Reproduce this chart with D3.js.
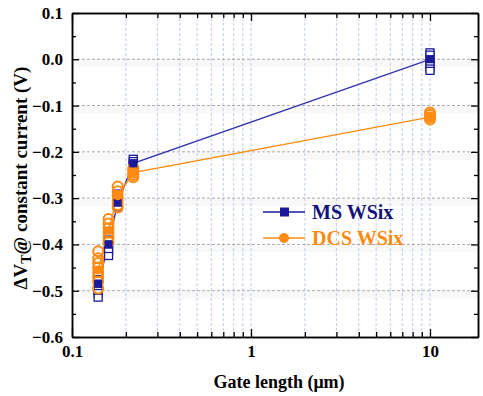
<!DOCTYPE html>
<html>
<head>
<meta charset="utf-8">
<script src="https://cdn.jsdelivr.net/npm/d3@7"></script>
<style>
  body { margin: 0; background: #fff; }
  svg text { font-family: "Liberation Serif", "Times New Roman", "DejaVu Serif", serif !important; font-weight: bold; }
</style>
</head>
<body>
<div id="chart"></div>
<script>
// gate lengths (um)
var gateLen = [0.14, 0.16, 0.18, 0.22, 10];

// mean values (line + filled marker)
var msMean  = [-0.485, -0.40, -0.31, -0.225, 0.0];
var dcsMean = [-0.455, -0.37, -0.295, -0.245, -0.125];

// raw device values per gate length (open markers)
var msRaw = [
  [-0.465, -0.475, -0.485, -0.49, -0.50, -0.505, -0.515],
  [-0.375, -0.39, -0.40, -0.41, -0.415, -0.425],
  [-0.29, -0.30, -0.31, -0.315, -0.32],
  [-0.215, -0.22, -0.225, -0.23, -0.235],
  [0.015, 0.01, 0.0, -0.005, -0.01, -0.02, -0.025]
];
var dcsRaw = [
  [-0.415, -0.43, -0.44, -0.45, -0.46, -0.47, -0.48, -0.495],
  [-0.345, -0.355, -0.365, -0.375, -0.385, -0.395],
  [-0.275, -0.285, -0.295, -0.305, -0.315, -0.32],
  [-0.235, -0.24, -0.245, -0.25, -0.255],
  [-0.115, -0.12, -0.125, -0.13]
];

var yTicks = [0.1, 0.0, -0.1, -0.2, -0.3, -0.4, -0.5, -0.6];
var xTicks = [0.1, 1, 10];

var svgWidth = 483, svgHeight = 396;
var margin = {top: 13, right: 5, bottom: 59, left: 72};
var width = svgWidth - margin.left - margin.right;
var height = svgHeight - margin.top - margin.bottom;

var msColor = "#1a1a9a", dcsColor = "#ff8a10";

var svg = d3.select("#chart").append("svg")
  .attr("width", svgWidth)
  .attr("height", svgHeight);

var g = svg.append("g")
  .attr("transform", `translate(${margin.left}, ${margin.top})`);

var x = d3.scaleLog()
  .domain([0.1, Math.pow(10, 1 + 48 / 179)])
  .range([0, width]);
var y = d3.scaleLinear()
  .domain([-0.6, 0.1])
  .range([height, 0]);

// minor log positions
var minorX = [];
[0.1, 1, 10].forEach(function(d) {
  for (var k = 2; k <= 9; k++) {
    if (d * k <= x.domain()[1]) minorX.push(d * k);
  }
});

// faint bands under horizontal grid
g.append("g").selectAll("rect")
  .data(yTicks.slice(1, -1))
  .enter().append("rect")
  .attr("x", 0).attr("width", width)
  .attr("y", d => y(d) + 1).attr("height", 7)
  .attr("fill", "#f8f8f8");

// vertical grid
g.append("g").selectAll("line")
  .data(minorX.concat([1, 10]))
  .enter().append("line")
  .attr("x1", d => x(d)).attr("x2", d => x(d))
  .attr("y1", 0).attr("y2", height)
  .attr("stroke", "#bccde3")
  .attr("stroke-width", 1)
  .attr("stroke-dasharray", "3,2");

// horizontal grid
g.append("g").selectAll("line")
  .data(yTicks.slice(1, -1))
  .enter().append("line")
  .attr("x1", 0).attr("x2", width)
  .attr("y1", d => y(d)).attr("y2", d => y(d))
  .attr("stroke", "#a8a8a8")
  .attr("stroke-width", 1)
  .attr("stroke-dasharray", "3,2");

// axes, ticks pointing inward
var bottomAxis = d3.axisBottom(x).tickValues(xTicks).tickFormat(d3.format("")).tickSizeInner(-8).tickSizeOuter(0);
var bottomMinor = d3.axisBottom(x).tickValues(minorX).tickFormat("").tickSizeInner(-5).tickSizeOuter(0);
var topAxis = d3.axisTop(x).tickValues(xTicks).tickFormat("").tickSizeInner(-8).tickSizeOuter(0);
var topMinor = d3.axisTop(x).tickValues(minorX).tickFormat("").tickSizeInner(-5).tickSizeOuter(0);
var leftAxis = d3.axisLeft(y).tickValues(yTicks).tickFormat(d3.format(".1f")).tickSizeInner(-7).tickSizeOuter(0);
var minorY = d3.range(-0.55, 0.1, 0.1);
var leftMinor = d3.axisLeft(y).tickValues(minorY).tickFormat("").tickSizeInner(-4).tickSizeOuter(0);
var rightAxis = d3.axisRight(y).tickValues(yTicks).tickFormat("").tickSizeInner(-7).tickSizeOuter(0);
var rightMinor = d3.axisRight(y).tickValues(minorY).tickFormat("").tickSizeInner(-4).tickSizeOuter(0);

function styleAxis(sel) {
  sel.attr("font-family", null);
  sel.selectAll("path").attr("stroke", "#000").attr("stroke-width", 1.5);
  sel.selectAll("line").attr("stroke", "#000").attr("stroke-width", 1.3);
  sel.selectAll("text").attr("fill", "#000").style("font-size", "17px");
}

var bx = g.append("g").attr("transform", `translate(0, ${height})`).call(bottomAxis).call(styleAxis);
bx.selectAll("text").attr("dy", "1.0em");
g.append("g").attr("transform", `translate(0, ${height})`).call(bottomMinor).call(styleAxis);
g.append("g").call(topAxis).call(styleAxis);
g.append("g").call(topMinor).call(styleAxis);
var ly = g.append("g").call(leftAxis).call(styleAxis);
ly.selectAll("text").attr("x", -9).text(d => d === 0 ? "0.0" : d3.format(".1f")(d));
g.append("g").call(leftMinor).call(styleAxis);
g.append("g").attr("transform", `translate(${width}, 0)`).call(rightAxis).call(styleAxis);
g.append("g").attr("transform", `translate(${width}, 0)`).call(rightMinor).call(styleAxis);

// lines through means
var line = d3.line().x(d => x(d[0])).y(d => y(d[1]));
g.append("path")
  .datum(gateLen.map((d, i) => [d, msMean[i]]))
  .attr("d", line).attr("fill", "none")
  .attr("stroke", "#3535b0").attr("stroke-width", 1.4);
g.append("path")
  .datum(gateLen.map((d, i) => [d, dcsMean[i]]))
  .attr("d", line).attr("fill", "none")
  .attr("stroke", dcsColor).attr("stroke-width", 1.4);

// flatten raw points
var msPts = [], dcsPts = [];
gateLen.forEach(function(L, i) {
  msRaw[i].forEach(v => msPts.push([L, v]));
  dcsRaw[i].forEach(v => dcsPts.push([L, v]));
});

// open squares (MS)
g.append("g").selectAll("rect")
  .data(msPts)
  .enter().append("rect")
  .attr("x", d => x(d[0]) - 4).attr("y", d => y(d[1]) - 3.5)
  .attr("width", 8).attr("height", 7)
  .attr("fill", "#fff")
  .attr("stroke", msColor).attr("stroke-width", 1.3);

// open circles (DCS)
g.append("g").selectAll("circle")
  .data(dcsPts)
  .enter().append("circle")
  .attr("cx", d => x(d[0])).attr("cy", d => y(d[1]))
  .attr("r", 5)
  .attr("fill", "none")
  .attr("stroke", dcsColor).attr("stroke-width", 2);

// filled mean markers
g.append("g").selectAll("rect")
  .data(gateLen.map((d, i) => [d, msMean[i]]))
  .enter().append("rect")
  .attr("x", d => x(d[0]) - 4).attr("y", d => y(d[1]) - 4)
  .attr("width", 8).attr("height", 8)
  .attr("fill", msColor);
g.append("g").selectAll("circle")
  .data(gateLen.map((d, i) => [d, dcsMean[i]]))
  .enter().append("circle")
  .attr("cx", d => x(d[0])).attr("cy", d => y(d[1]))
  .attr("r", 4.5)
  .attr("fill", dcsColor);

// legend
var legend = svg.append("g").attr("transform", "translate(263, 212)");
legend.append("line").attr("x1", 0).attr("x2", 42).attr("y1", 0).attr("y2", 0)
  .attr("stroke", msColor).attr("stroke-width", 1.4);
legend.append("rect").attr("x", 17).attr("y", -4.5).attr("width", 9).attr("height", 9)
  .attr("fill", msColor);
legend.append("text").attr("x", 49).attr("y", 7)
  .attr("fill", "#12127a").style("font-size", "20px").text("MS WSix");
legend.append("line").attr("x1", 0).attr("x2", 42).attr("y1", 26).attr("y2", 26)
  .attr("stroke", dcsColor).attr("stroke-width", 1.4);
legend.append("circle").attr("cx", 21).attr("cy", 26).attr("r", 5)
  .attr("fill", dcsColor);
legend.append("text").attr("x", 49).attr("y", 33)
  .attr("fill", dcsColor).style("font-size", "20px").text("DCS WSix");

// axis titles
svg.append("text")
  .attr("x", margin.left + width / 2 + 4).attr("y", 388)
  .attr("text-anchor", "middle")
  .style("font-size", "18px")
  .text("Gate length (\u03bcm)");

var yt = svg.append("text")
  .attr("transform", `translate(27, ${margin.top + height / 2 + 3}) rotate(-90)`)
  .attr("text-anchor", "middle")
  .style("font-size", "19px");
yt.append("tspan").text("\u0394V");
yt.append("tspan").attr("baseline-shift", "-25%").style("font-size", "14px").text("T");
yt.append("tspan").text("@ constant current (V)");
</script>
</body>
</html>
